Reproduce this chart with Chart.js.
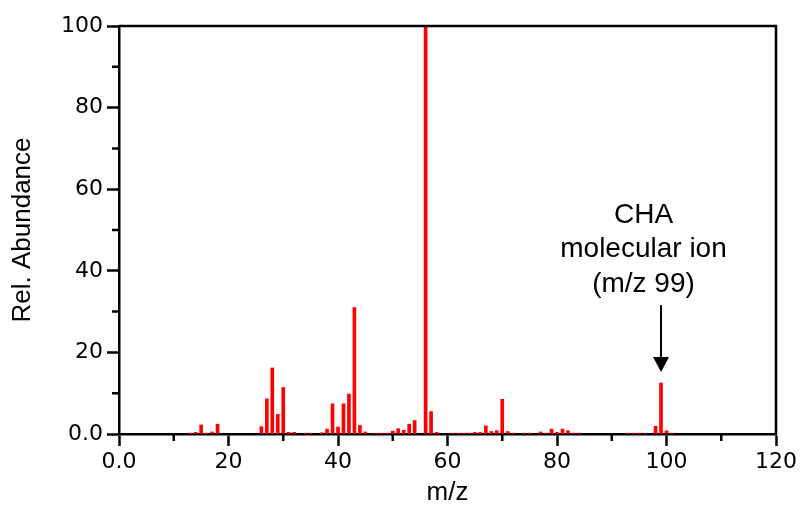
<!DOCTYPE html>
<html>
<head>
<meta charset="utf-8">
<script src="https://cdn.jsdelivr.net/npm/chart.js@4.4.0/dist/chart.umd.min.js"></script>
<style>
  html, body { margin: 0; padding: 0; background: #ffffff; }
  #wrap { width: 803px; height: 506px; }
</style>
</head>
<body>
<div id="wrap"><canvas id="c" width="803" height="506"></canvas></div>
<script>
// m/z values of the peaks
const mz = [13, 14, 15, 16, 17, 18, 26, 27, 28, 29, 30, 31, 32, 34, 35, 37, 38, 39, 40, 41,
            42, 43, 44, 45, 47, 48, 49, 50, 51, 52, 53, 54, 56, 57, 58, 61, 62, 63, 64, 65,
            66, 67, 68, 69, 70, 71, 72, 74, 75, 77, 78, 79, 80, 81, 82, 83, 84, 93, 94, 95,
            96, 98, 99, 100, 101];
// relative abundance (%) of each peak
const abundance = [0.2, 0.4, 2.2, 0.2, 0.5, 2.4, 1.8, 8.6, 16.2, 4.8, 11.4, 0.4, 0.4, 0.2, 0.2, 0.3, 1.2, 7.4, 1.7, 7.4,
                   9.8, 31.0, 2.1, 0.5, 0.2, 0.2, 0.2, 0.7, 1.3, 0.9, 2.4, 3.3, 100, 5.5, 0.4, 0.2, 0.2, 0.2, 0.2, 0.4,
                   0.4, 2.0, 0.6, 0.8, 8.5, 0.6, 0.2, 0.2, 0.2, 0.5, 0.2, 1.2, 0.4, 1.2, 0.8, 0.2, 0.2, 0.2, 0.2, 0.2,
                   0.2, 1.9, 12.5, 0.8, 0.2];
// axis tick values
const xMajorTicks = [0, 20, 40, 60, 80, 100, 120];
const xMinorTicks = [10, 30, 50, 70, 90, 110];
const yMajorTicks = [0, 20, 40, 60, 80, 100];
const yMinorTicks = [10, 30, 50, 70, 90];
// annotation text
const annotationLines = ['CHA', 'molecular ion', '(m/z 99)'];
const annotatedPeak = 99;

const TICK_FONT = { family: '"DejaVu Sans", sans-serif', size: 22 };
const TITLE_FONT = { family: '"Liberation Sans", Arial, sans-serif', size: 26 };
const AXIS_W = 2.5;

const framePlugin = {
  id: 'frame',
  afterDraw(chart) {
    const { ctx, chartArea } = chart;
    const xs = chart.scales.x, ys = chart.scales.y;
    ctx.save();
    ctx.strokeStyle = '#000';
    ctx.lineWidth = AXIS_W;
    // top and right frame lines
    ctx.beginPath();
    ctx.moveTo(chartArea.left, chartArea.top);
    ctx.lineTo(chartArea.right, chartArea.top);
    ctx.lineTo(chartArea.right, chartArea.bottom);
    ctx.stroke();
    // minor ticks
    ctx.beginPath();
    xMinorTicks.forEach(v => {
      const px = xs.getPixelForValue(v);
      ctx.moveTo(px, chartArea.bottom);
      ctx.lineTo(px, chartArea.bottom + 7);
    });
    yMinorTicks.forEach(v => {
      const py = ys.getPixelForValue(v);
      ctx.moveTo(chartArea.left, py);
      ctx.lineTo(chartArea.left - 7, py);
    });
    ctx.stroke();

    // annotation
    const ax = xs.getPixelForValue(annotatedPeak);
    const tx = xs.getPixelForValue(95.8);
    const textVals = [53.7, 45.3, 36.8];
    ctx.fillStyle = '#000';
    ctx.font = '28px "Liberation Sans", Arial, sans-serif';
    ctx.textAlign = 'center';
    ctx.textBaseline = 'middle';
    annotationLines.forEach((t, i) => {
      ctx.fillText(t, tx, ys.getPixelForValue(textVals[i]));
    });
    const yStart = ys.getPixelForValue(31.6);
    const yHead = ys.getPixelForValue(18.9);
    const yTip = ys.getPixelForValue(15.2);
    ctx.lineWidth = 2;
    ctx.beginPath();
    ctx.moveTo(ax, yStart);
    ctx.lineTo(ax, yHead + 1);
    ctx.stroke();
    ctx.beginPath();
    ctx.moveTo(ax - 8, yHead);
    ctx.lineTo(ax + 8, yHead);
    ctx.lineTo(ax, yTip);
    ctx.closePath();
    ctx.fill();
    ctx.restore();
  }
};

new Chart(document.getElementById('c'), {
  type: 'bar',
  data: {
    datasets: [{
      data: mz.map((m, i) => ({ x: m, y: abundance[i] })),
      backgroundColor: '#ff0000',
      borderWidth: 0,
      barThickness: 3
    }]
  },
  options: {
    responsive: false,
    animation: false,
    events: [],
    layout: { padding: { left: 0, right: 27, top: 26, bottom: 0 } },
    plugins: { legend: { display: false }, tooltip: { enabled: false } },
    scales: {
      x: {
        type: 'linear',
        offset: false,
        min: 0, max: 120,
        afterFit(scale) { scale.height = 72; },
        afterBuildTicks(scale) { scale.ticks = xMajorTicks.map(v => ({ value: v })); },
        ticks: {
          font: TICK_FONT, color: '#000', padding: 3, maxRotation: 0, autoSkip: false,
          callback: v => (v === 0 ? '0.0' : String(v))
        },
        grid: { offset: false, drawOnChartArea: false, drawTicks: true, tickLength: 12, tickWidth: AXIS_W, tickColor: '#000' },
        border: { display: true, color: '#000', width: AXIS_W },
        title: { display: true, text: 'm/z', font: Object.assign({}, TITLE_FONT, { lineHeight: 1.0 }), color: '#000', padding: { top: 0, bottom: 0 } }
      },
      y: {
        type: 'linear',
        min: 0, max: 100,
        afterFit(scale) { scale.width = 119; },
        afterBuildTicks(scale) { scale.ticks = yMajorTicks.map(v => ({ value: v })); },
        ticks: {
          font: TICK_FONT, color: '#000', padding: 4, autoSkip: false,
          callback: v => (v === 0 ? '0.0' : String(v))
        },
        grid: { drawOnChartArea: false, drawTicks: true, tickLength: 12, tickWidth: AXIS_W, tickColor: '#000' },
        border: { display: true, color: '#000', width: AXIS_W },
        title: { display: true, text: 'Rel. Abundance', font: TITLE_FONT, color: '#000', padding: { top: 7, bottom: 0 } }
      }
    }
  },
  plugins: [framePlugin]
});
</script>
</body>
</html>
